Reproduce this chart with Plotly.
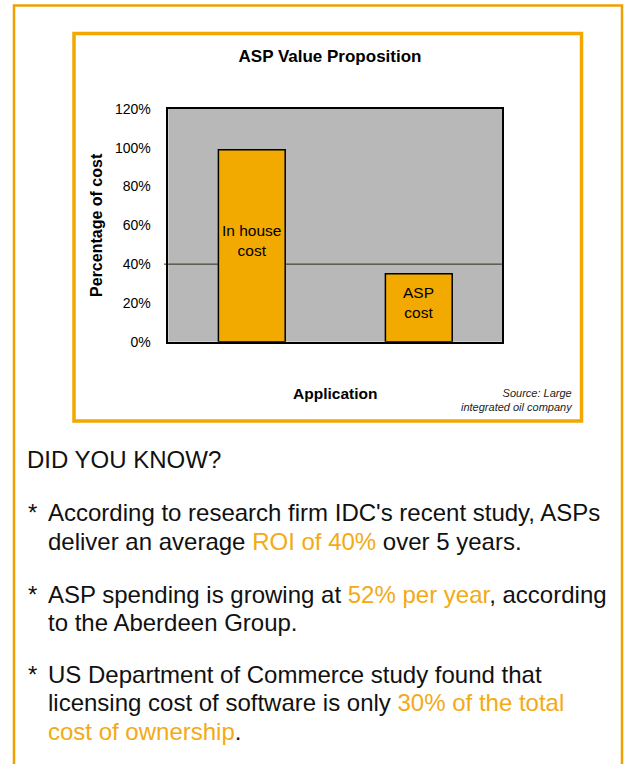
import plotly.graph_objects as go

# ---------------- data ----------------
categories = ["In house cost", "ASP cost"]
bar_labels = ["In house<br>cost", "ASP<br>cost"]
cost_share = [99, 35]          # percentage of cost
reference_level = 40           # horizontal reference line (%)
y_tick_values = [0, 20, 40, 60, 80, 100, 120]
y_tick_labels = ["0%", "20%", "40%", "60%", "80%", "100%", "120%"]

chart_title = "ASP Value Proposition"
x_title = "Application"
y_title = "Percentage of cost"
source_note = "Source: Large<br>integrated oil company"

heading = "DID YOU KNOW?"
HL = "#F3AA14"
fact_lines = [
    ["According to research firm IDC's recent study, ASPs",
     f"deliver an average <span style='color:{HL}'>ROI of 40%</span> over 5 years."],
    [f"ASP spending is growing at <span style='color:{HL}'>52% per year</span>, according",
     "to the Aberdeen Group."],
    ["US Department of Commerce study found that",
     f"licensing cost of software is only <span style='color:{HL}'>30% of the total</span>",
     f"<span style='color:{HL}'>cost of ownership</span>."],
]

# ---------------- figure ----------------
W, H = 625, 764
ORANGE = "#F2A800"
BAR = "#F2A900"
FONT = "Liberation Sans, Arial, sans-serif"

def px(x):
    return x / W

def py(y):
    return 1 - y / H

fig = go.Figure()
fig.add_trace(go.Bar(
    x=categories, y=cost_share,
    marker=dict(color=BAR, line=dict(color="black", width=1.5)),
    width=0.4, hoverinfo="skip",
))

# labels inside the bars, placed at half of each bar's value
for cat, val, lab in zip(categories, cost_share, bar_labels):
    fig.add_annotation(x=cat, y=val / 2, xref="x", yref="y", text=lab,
                       showarrow=False, yshift=5, align="center",
                       font=dict(size=15.5, family=FONT, color="black"))

fig.update_layout(
    width=W, height=H, autosize=False,
    margin=dict(l=0, r=0, t=0, b=0, pad=0, autoexpand=False),
    paper_bgcolor="white", plot_bgcolor="#B8B8B8",
    showlegend=False,
    font=dict(family=FONT, color="black"),
    title=dict(text=f"<b>{chart_title}</b>", x=px(330), y=py(56),
               xref="paper", yref="paper", xanchor="center", yanchor="middle",
               automargin=False,
               font=dict(size=17, family=FONT, color="black")),
    xaxis=dict(domain=[px(168.3), px(502.3)], type="category", range=[-0.5, 1.5],
               automargin=False,
               showticklabels=False, ticks="", showgrid=False,
               showline=True, linecolor="black", linewidth=1.5, mirror=True,
               title=dict(text=f"<b>{x_title}</b>", standoff=46,
                          font=dict(size=15.5, family=FONT))),
    yaxis=dict(domain=[py(341.7), py(109)], range=[0, 120],
               automargin=False,
               tickvals=y_tick_values, ticktext=y_tick_labels,
               tickfont=dict(size=14, family=FONT), ticklabelstandoff=13,
               ticks="", showgrid=False, zeroline=False,
               showline=True, linecolor="black", linewidth=1.5, mirror=True,
               title=dict(text=f"<b>{y_title}</b>", standoff=8,
                          font=dict(size=16, family=FONT))),
)

# reference line at 40% (extends slightly left of the axis)
fig.add_shape(type="line", xref="paper", yref="y",
              x0=px(164), x1=px(502.3), y0=reference_level, y1=reference_level,
              line=dict(color="#2E2A18", width=1), layer="below")

# borders
fig.add_shape(type="rect", xref="paper", yref="paper",
              x0=px(14), x1=px(622), y0=py(H + 20), y1=py(5.5),
              line=dict(color="#F0A000", width=2.5))
fig.add_shape(type="rect", xref="paper", yref="paper",
              x0=px(74), x1=px(581.5), y0=py(421), y1=py(33.5),
              line=dict(color=ORANGE, width=3.5))

# source note
fig.add_annotation(text=f"<i>{source_note}</i>", xref="paper", yref="paper",
                   x=px(575), y=py(400), xanchor="right", yanchor="middle",
                   align="right", showarrow=False,
                   font=dict(size=11, family=FONT, color="#222222"))

# body text
BODY = 24
fig.add_annotation(text=heading, xref="paper", yref="paper", x=px(25), y=py(459),
                   xanchor="left", yanchor="middle", showarrow=False,
                   font=dict(size=BODY, family=FONT, color="#111111"))

line_y = [[512, 541], [594, 622], [674, 702, 731]]
for para, ys in zip(fact_lines, line_y):
    fig.add_annotation(text="*", xref="paper", yref="paper", x=px(26), y=py(ys[0]),
                       xanchor="left", yanchor="middle", showarrow=False,
                       font=dict(size=BODY, family=FONT, color="#111111"))
    for line, yy in zip(para, ys):
        fig.add_annotation(text=line, xref="paper", yref="paper", x=px(46), y=py(yy),
                           xanchor="left", yanchor="middle", showarrow=False,
                           font=dict(size=BODY, family=FONT, color="#111111"))

fig.write_html("out.html", config={"displayModeBar": False},
               post_script="document.body.style.margin='0';document.documentElement.style.margin='0';document.body.style.overflow='hidden';")
